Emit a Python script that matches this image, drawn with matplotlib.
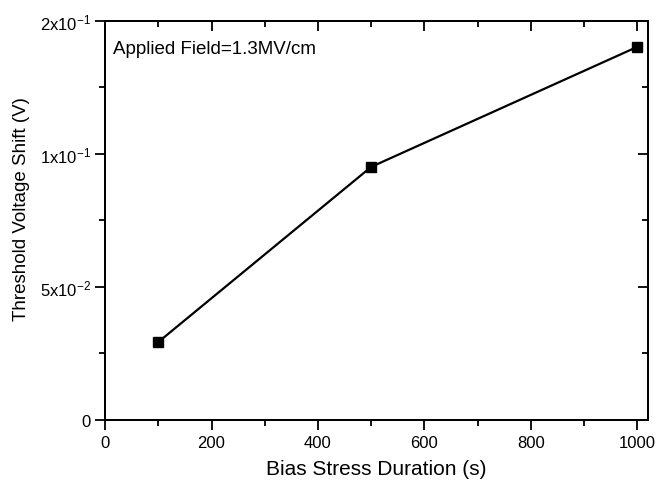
import numpy as np
import matplotlib
matplotlib.use("Agg")
import matplotlib.pyplot as plt
from matplotlib.ticker import MultipleLocator

plt.rcParams['font.family'] = ['Liberation Sans', 'DejaVu Sans']
plt.rcParams['mathtext.fontset'] = 'custom'
plt.rcParams['mathtext.rm'] = 'Liberation Sans'
plt.rcParams['mathtext.it'] = 'Liberation Sans'

#DATA
duration = [100, 500, 1000]
shift = [0.0293, 0.0951, 0.1402]
ytick_vals = [0, 0.05, 0.10, 0.15]
ytick_labels = ['0', r'5x10$^{-2}$', r'1x10$^{-1}$', r'2x10$^{-1}$']
xtick_vals = [0, 200, 400, 600, 800, 1000]

#PLOT
fig = plt.figure(figsize=(6.57, 4.85), dpi=100)
ax = fig.add_axes([0.160, 0.132, 0.826, 0.823])
ax.plot(duration, shift, color='black', lw=1.6, marker='s', ms=7, zorder=3)

ax.set_xlim(0, 1020)
ax.set_ylim(0, 0.15)
ax.set_xticks(xtick_vals)
ax.set_yticks(ytick_vals)
ax.set_yticklabels(ytick_labels)
ax.xaxis.set_minor_locator(MultipleLocator(100))
ax.yaxis.set_minor_locator(MultipleLocator(0.025))

ax.tick_params(which='both', direction='out', width=1.3, labelsize=12, colors='black')
ax.tick_params(which='major', length=7)
ax.tick_params(which='minor', length=4)
for s in ax.spines.values():
    s.set_linewidth(1.3)

# inward ticks on top and right
axt = ax.twiny()
axt.set_xlim(ax.get_xlim())
axt.set_xticks(xtick_vals)
axt.xaxis.set_minor_locator(MultipleLocator(100))
axt.tick_params(which='both', direction='in', labeltop=False, width=1.3)
axt.tick_params(which='major', length=7)
axt.tick_params(which='minor', length=4)
axr = ax.twinx()
axr.set_ylim(ax.get_ylim())
axr.set_yticks(ytick_vals)
axr.yaxis.set_minor_locator(MultipleLocator(0.025))
axr.tick_params(which='both', direction='in', labelright=False, width=1.3)
axr.tick_params(which='major', length=7)
axr.tick_params(which='minor', length=4)
for a in (axt, axr):
    for s in a.spines.values():
        s.set_linewidth(1.3)

ax.set_xlabel('Bias Stress Duration (s)', fontsize=15, labelpad=7)
ax.set_ylabel('Threshold Voltage Shift (V)', fontsize=13.5)
ax.yaxis.set_label_coords(-0.138, 0.53)
ax.text(0.015, 0.93, 'Applied Field=1.3MV/cm', transform=ax.transAxes,
        fontsize=13.5, va='center', ha='left')

fig.savefig('out.png', dpi=100)
